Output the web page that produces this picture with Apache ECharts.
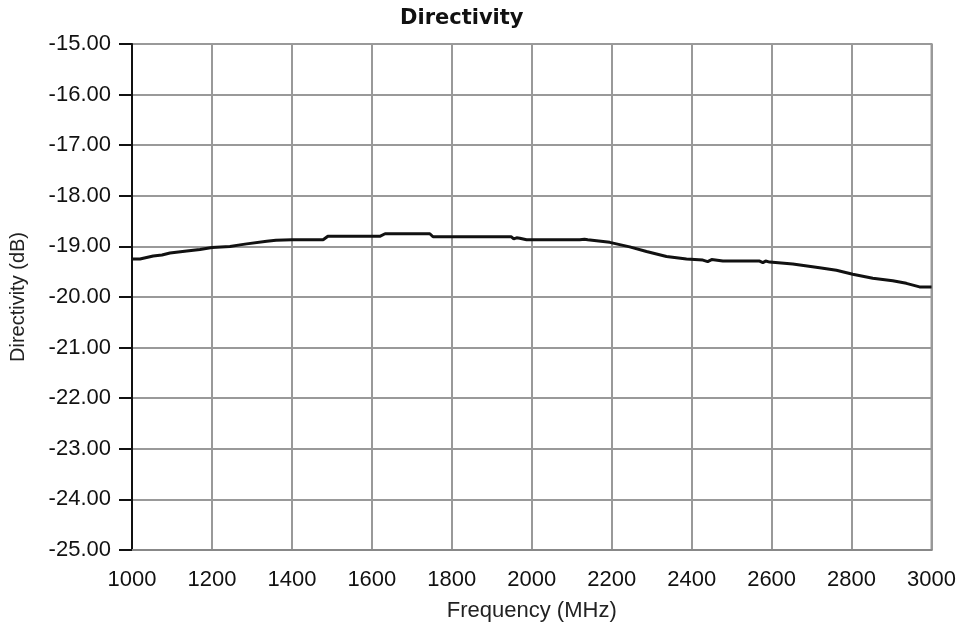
<!DOCTYPE html>
<html>
<head>
<meta charset="utf-8">
<script src="https://cdn.jsdelivr.net/npm/echarts@6/dist/echarts.min.js"></script>
<style>html,body{margin:0;padding:0;background:#fff;}#c{width:959px;height:627px;}</style>
</head>
<body>
<div id="c"></div>
<script>
const titleText = 'Directivity';
const xName = 'Frequency (MHz)';
const yName = 'Directivity (dB)';
const frequency = [1000,1020,1053,1075,1095,1137,1170,1200,1245,1270,1287,1337,1360,1400,1478,1490,1620,1633,1745,1753,1949,1955,1962,1970,1987,2120,2125,2132,2140,2195,2245,2287,2337,2387,2428,2440,2450,2478,2570,2578,2585,2595,2653,2720,2762,2803,2853,2903,2937,2970,3000];
const directivity = [-19.25,-19.25,-19.19,-19.17,-19.13,-19.09,-19.06,-19.02,-19.0,-18.97,-18.95,-18.9,-18.88,-18.87,-18.87,-18.8,-18.8,-18.75,-18.75,-18.81,-18.81,-18.85,-18.83,-18.84,-18.87,-18.87,-18.9,-18.86,-18.87,-18.92,-19.01,-19.1,-19.2,-19.25,-19.27,-19.3,-19.26,-19.29,-19.29,-19.32,-19.29,-19.31,-19.35,-19.42,-19.47,-19.55,-19.63,-19.68,-19.73,-19.8,-19.8];
const xMin = 1000, xMax = 3000, xStep = 200;
const yMin = -25, yMax = -15, yStep = 1;

const chart = echarts.init(document.getElementById('c'));
const font = 'Liberation Sans, Arial, sans-serif';
chart.setOption({
  animation: false,
  backgroundColor: '#fff',
  title: {text: titleText, left: 400, top: 8, padding: 0,
    textStyle: {fontFamily: 'DejaVu Sans', fontWeight: 'bold', fontSize: 21, color: '#111'}},
  grid: {left: 131, right: 27, top: 44, bottom: 77, show: true, borderColor: '#999', borderWidth: 2},
  xAxis: {
    type: 'value', min: xMin, max: xMax, interval: xStep,
    name: xName, nameLocation: 'middle', nameGap: 50,
    nameTextStyle: {fontFamily: font, fontSize: 22, color: '#222'},
    axisLine: {show: true, lineStyle: {color: '#888', width: 2}},
    axisTick: {show: false},
    axisLabel: {fontFamily: font, fontSize: 22, color: '#111', margin: 19,
      formatter: v => String(v)},
    splitLine: {show: true, lineStyle: {color: '#999', width: 2}}
  },
  yAxis: {
    type: 'value', min: yMin, max: yMax, interval: yStep,
    name: yName, nameLocation: 'middle', nameGap: 104, nameRotate: 90,
    nameTextStyle: {fontFamily: font, fontSize: 20, color: '#222'},
    axisLine: {show: true, lineStyle: {color: '#111', width: 2}},
    axisTick: {show: true, length: 13, lineStyle: {color: '#111', width: 2}},
    axisLabel: {fontFamily: font, fontSize: 22, color: '#111', margin: 21,
      formatter: v => v.toFixed(2)},
    splitLine: {show: true, lineStyle: {color: '#999', width: 2}}
  },
  series: [{
    type: 'line', data: frequency.map((f, i) => [f, directivity[i]]),
    showSymbol: false, lineStyle: {color: '#111', width: 3}
  }]
});
</script>
</body>
</html>
